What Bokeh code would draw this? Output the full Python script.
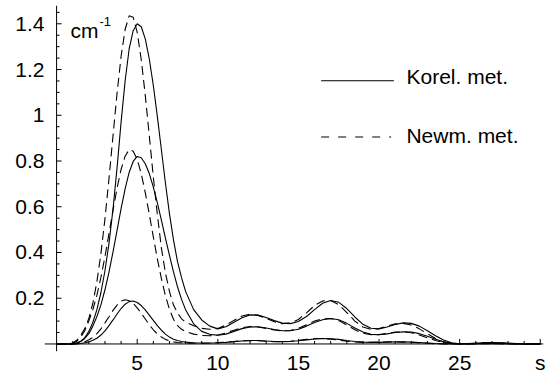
from bokeh.plotting import figure
from bokeh.models import Range1d, FixedTicker
from bokeh.embed import file_html
from bokeh.resources import INLINE
from bokeh.core.properties import value

# ---- data ----
s = [0, 0.5, 1.0, 1.25, 1.5, 1.75, 2.0,
     2.25, 2.5, 2.75, 3.0, 3.25, 3.5, 3.75, 4.0,
     4.25, 4.5, 4.75, 5.0, 5.25, 5.5, 5.75, 6.0,
     6.25, 6.5, 6.75, 7.0, 7.25, 7.5, 7.75, 8.0,
     8.5, 9.0, 9.5, 10.0, 10.5, 11.0, 11.5, 12.0, 12.5, 13.0,
     13.5, 14.0, 14.5, 15.0, 15.5, 16.0, 16.5, 17.0, 17.5, 18.0,
     18.5, 19.0, 19.5, 20.0, 20.5, 21.0, 21.5, 22.0, 22.5, 23.0,
     23.5, 24.0, 24.5, 25.0, 25.5, 26.0, 26.5, 27.0, 27.5, 28.0,
     28.5, 29.0, 29.5, 30.0]

korel_big = [0, 0, 0, 0.004, 0.012, 0.028, 0.055,
             0.095, 0.15, 0.225, 0.32, 0.44, 0.59, 0.77, 0.97,
             1.15, 1.29, 1.37, 1.40, 1.387, 1.334, 1.246, 1.13,
             0.994, 0.849, 0.704, 0.57, 0.455, 0.36, 0.29, 0.23,
             0.15, 0.105, 0.078, 0.066, 0.075, 0.095, 0.115, 0.127, 0.126, 0.116,
             0.102, 0.091, 0.089, 0.098, 0.12, 0.15, 0.178, 0.19, 0.182, 0.155,
             0.118, 0.086, 0.069, 0.066, 0.074, 0.085, 0.092, 0.09, 0.078, 0.058,
             0.036, 0.017, 0.005, 0.001, 0.0015, 0.003, 0.005, 0.006, 0.005, 0.004,
             0.002, 0.001, 0, 0]

newm_big = [0, 0, 0.004, 0.016, 0.038, 0.067, 0.112,
            0.178, 0.272, 0.395, 0.547, 0.723, 0.911, 1.096, 1.257,
            1.375, 1.435, 1.429, 1.362, 1.244, 1.087, 0.91, 0.73,
            0.565, 0.42, 0.31, 0.23, 0.17, 0.135, 0.11, 0.095,
            0.08, 0.068, 0.064, 0.068, 0.082, 0.103, 0.122, 0.13, 0.125, 0.112,
            0.097, 0.089, 0.092, 0.107, 0.136, 0.168, 0.188, 0.19, 0.172, 0.137,
            0.1, 0.074, 0.064, 0.067, 0.078, 0.088, 0.09, 0.083, 0.066, 0.045,
            0.024, 0.009, 0.002, 0.001, 0.002, 0.004, 0.006, 0.005, 0.004, 0.002,
            0.001, 0, 0, 0]

korel_mid = [0, 0, 0, 0.004, 0.011, 0.024, 0.045,
             0.078, 0.12, 0.171, 0.237, 0.314, 0.403, 0.497, 0.592,
             0.678, 0.75, 0.798, 0.82, 0.814, 0.788, 0.745, 0.686,
             0.617, 0.541, 0.463, 0.387, 0.315, 0.25, 0.195, 0.15,
             0.088, 0.055, 0.042, 0.038, 0.043, 0.055, 0.067, 0.074, 0.075, 0.07,
             0.063, 0.058, 0.058, 0.064, 0.078, 0.094, 0.106, 0.111, 0.106, 0.09,
             0.07, 0.052, 0.042, 0.04, 0.044, 0.05, 0.053, 0.052, 0.045, 0.034,
             0.021, 0.01, 0.003, 0.001, 0.001, 0.002, 0.003, 0.004, 0.003, 0.002,
             0.001, 0, 0, 0]

newm_mid = [0, 0, 0.002, 0.011, 0.03, 0.058, 0.101,
            0.15, 0.213, 0.291, 0.382, 0.483, 0.585, 0.682, 0.763,
            0.821, 0.85, 0.843, 0.807, 0.744, 0.662, 0.567, 0.468,
            0.372, 0.286, 0.211, 0.152, 0.108, 0.08, 0.064, 0.054,
            0.043, 0.037, 0.036, 0.039, 0.048, 0.06, 0.071, 0.076, 0.074, 0.068,
            0.061, 0.057, 0.059, 0.068, 0.084, 0.1, 0.11, 0.111, 0.102, 0.083,
            0.062, 0.047, 0.04, 0.041, 0.046, 0.052, 0.053, 0.049, 0.039, 0.027,
            0.015, 0.006, 0.002, 0.001, 0.001, 0.002, 0.003, 0.004, 0.003, 0.002,
            0.001, 0, 0, 0]

korel_small = [0, 0, 0, 0.0005, 0.002, 0.005, 0.009,
               0.016, 0.025, 0.039, 0.057, 0.08, 0.105, 0.131, 0.155,
               0.174, 0.185, 0.188, 0.181, 0.168, 0.149, 0.126, 0.103,
               0.08, 0.06, 0.043, 0.03, 0.021, 0.015, 0.011, 0.008,
               0.005, 0.004, 0.004, 0.005, 0.007, 0.01, 0.013, 0.015, 0.015, 0.013,
               0.011, 0.01, 0.011, 0.014, 0.018, 0.022, 0.024, 0.023, 0.02, 0.015,
               0.011, 0.008, 0.007, 0.007, 0.008, 0.009, 0.009, 0.008, 0.006, 0.004,
               0.002, 0.001, 0, 0, 0, 0, 0.001, 0.001, 0.001, 0,
               0, 0, 0, 0]

newm_small = [0, 0, 0, 0.0015, 0.005, 0.01, 0.018,
              0.029, 0.045, 0.066, 0.092, 0.119, 0.147, 0.17, 0.187,
              0.193, 0.189, 0.177, 0.158, 0.134, 0.109, 0.084, 0.062,
              0.044, 0.03, 0.02, 0.013, 0.009, 0.006, 0.005, 0.004,
              0.003, 0.003, 0.004, 0.006, 0.008, 0.011, 0.014, 0.015, 0.014, 0.012,
              0.01, 0.01, 0.012, 0.016, 0.02, 0.023, 0.024, 0.021, 0.017, 0.012,
              0.009, 0.007, 0.007, 0.008, 0.009, 0.009, 0.008, 0.007, 0.005, 0.003,
              0.001, 0, 0, 0, 0, 0, 0.001, 0.001, 0.001, 0,
              0, 0, 0, 0]

x_ticks = [5, 10, 15, 20, 25, 30]
x_tick_labels = {30: "s"}
y_ticks = [0.2, 0.4, 0.6, 0.8, 1.0, 1.2, 1.4]
y_tick_labels = {0.2: "0.2", 0.4: "0.4", 0.6: "0.6", 0.8: "0.8", 1.0: "1", 1.2: "1.2", 1.4: "1.4"}
legend_labels = ["Korel. met.", "Newm. met."]

FONT = "Liberation Sans"
X0, X1 = -0.75, 30.2
Y0, Y1 = -0.033, 1.48
W, H = 547, 376
ML, MR, MT, MB = 44, 4, 5, 23

p = figure(width=W, height=H, x_range=Range1d(X0, X1), y_range=Range1d(Y0, Y1),
           output_backend="svg", toolbar_location=None,
           min_border_left=ML, min_border_right=MR, min_border_top=MT, min_border_bottom=MB)
p.outline_line_color = None
p.grid.visible = False
p.background_fill_color = "white"

# axes used for the tick labels (at the frame edges, which sit where the reference labels are)
p.xaxis.ticker = FixedTicker(ticks=x_ticks)
p.xaxis.major_label_overrides = x_tick_labels
p.yaxis.ticker = FixedTicker(ticks=y_ticks)
p.yaxis.major_label_overrides = y_tick_labels
for ax in (p.xaxis, p.yaxis):
    ax.axis_line_color = None
    ax.major_tick_line_color = None
    ax.minor_tick_line_color = None
    ax.major_tick_in = 0
    ax.major_tick_out = 0
    ax.minor_tick_in = 0
    ax.minor_tick_out = 0
    ax.major_label_text_font = FONT
    ax.major_label_text_font_size = "21px"
    ax.major_label_text_color = "black"
p.xaxis.major_label_standoff = -1
p.yaxis.major_label_standoff = 0

# axis lines crossing at the origin, with inward ticks
px_x = (X1 - X0) / (W - ML - MR)   # data units per pixel, horizontal
px_y = (Y1 - Y0) / (H - MT - MB)   # data units per pixel, vertical
x_minor = [i for i in range(1, 30) if i % 5]
y_minor = [round(0.05 * i, 2) for i in range(1, 30) if i % 4]
p.segment(x0=[X0, 0], y0=[0, Y0], x1=[X1, 0], y1=[0, Y1], line_color="black", line_width=1)
p.segment(x0=x_ticks, y0=[0] * len(x_ticks), x1=x_ticks, y1=[5 * px_y] * len(x_ticks),
          line_color="black", line_width=1)
p.segment(x0=x_minor, y0=[0] * len(x_minor), x1=x_minor, y1=[3 * px_y] * len(x_minor),
          line_color="black", line_width=1)
p.segment(x0=[0] * len(y_ticks), y0=y_ticks, x1=[5 * px_x] * len(y_ticks), y1=y_ticks,
          line_color="black", line_width=1)
p.segment(x0=[0] * len(y_minor), y0=y_minor, x1=[3 * px_x] * len(y_minor), y1=y_minor,
          line_color="black", line_width=1)

for ys in (korel_big, korel_mid, korel_small):
    p.line(s, ys, line_color="black", line_width=1.1)
for ys in (newm_big, newm_mid, newm_small):
    p.line(s, ys, line_color="black", line_width=1.1, line_dash="9 5")

# unit label on the y axis
p.text(x=[0.86], y=[1.371], text=["cm"], text_font=value(FONT), text_font_size="21px",
       text_baseline="alphabetic", text_align="left", text_color="black")
p.text(x=[2.66], y=[1.408], text=["-1"], text_font=value(FONT), text_font_size="13px",
       text_baseline="alphabetic", text_align="left", text_color="black")

# legend
p.line([16.41, 20.92], [1.151, 1.151], line_color="black", line_width=1)
p.line([16.41, 20.75], [0.905, 0.905], line_color="black", line_width=1, line_dash="8 9")
p.text(x=[21.7, 21.7], y=[1.168, 0.910], text=legend_labels, text_font=value(FONT),
       text_font_size="21px", text_baseline="alphabetic", text_align="left", text_color="black")

open("out.html", "w").write(file_html(p, INLINE))
